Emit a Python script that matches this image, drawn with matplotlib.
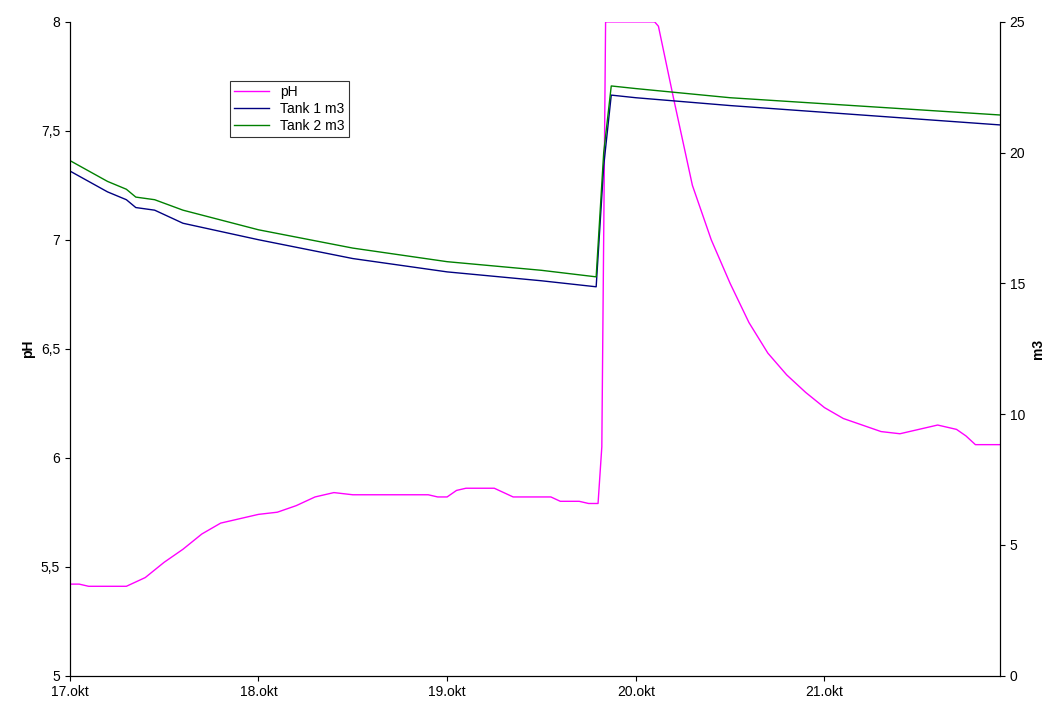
import matplotlib.pyplot as plt
from matplotlib.ticker import FuncFormatter

plt.rcParams['font.family'] = ['Liberation Sans', 'DejaVu Sans']

# days since 17.okt
ph_t = [0, 0.05, 0.1, 0.3, 0.35, 0.4, 0.5, 0.6, 0.7, 0.8, 0.9, 1.0, 1.1, 1.2, 1.3, 1.4,
        1.5, 1.9, 1.95, 2.0, 2.05, 2.1, 2.25, 2.35, 2.55, 2.6, 2.7, 2.75, 2.8, 2.82, 2.84,
        3.1, 3.12, 3.2, 3.3, 3.4, 3.5, 3.6, 3.7, 3.8, 3.9, 4.0, 4.1, 4.2, 4.3, 4.4, 4.5,
        4.6, 4.7, 4.75, 4.8, 4.93]
ph_v = [5.42, 5.42, 5.41, 5.41, 5.43, 5.45, 5.52, 5.58, 5.65, 5.70, 5.72, 5.74, 5.75, 5.78, 5.82, 5.84,
        5.83, 5.83, 5.82, 5.82, 5.85, 5.86, 5.86, 5.82, 5.82, 5.80, 5.80, 5.79, 5.79, 6.05, 8.0,
        8.0, 7.98, 7.65, 7.25, 7.0, 6.8, 6.62, 6.48, 6.38, 6.3, 6.23, 6.18, 6.15, 6.12, 6.11, 6.13,
        6.15, 6.13, 6.10, 6.06, 6.06]

tank_t = [0, 0.1, 0.2, 0.3, 0.35, 0.45, 0.6, 1.0, 1.5, 2.0, 2.5, 2.79, 2.83, 2.87, 3.0, 3.5, 4.93]
tank1 = [19.3, 18.9, 18.5, 18.2, 17.9, 17.8, 17.3, 16.67, 15.95, 15.44, 15.1, 14.87, 19.5, 22.2, 22.1, 21.8, 21.06]
tank2 = [19.7, 19.3, 18.9, 18.6, 18.3, 18.2, 17.8, 17.05, 16.35, 15.83, 15.5, 15.25, 20.0, 22.55, 22.45, 22.1, 21.44]

fig, ax = plt.subplots(figsize=(10.57, 7.06), dpi=100)
fig.subplots_adjust(left=0.066, right=0.946, top=0.969, bottom=0.043)
ax2 = ax.twinx()

l1, = ax.plot(ph_t, ph_v, color='#ff00ff', lw=1, label='pH')
l2, = ax2.plot(tank_t, tank1, color='#000080', lw=1, label='Tank 1 m3')
l3, = ax2.plot(tank_t, tank2, color='#008000', lw=1, label='Tank 2 m3')

ax.set_xlim(0, 4.93)
ax.set_ylim(5, 8)
ax2.set_ylim(0, 25)
ax.set_xticks([0, 1, 2, 3, 4])
ax.set_xticklabels(['17.okt', '18.okt', '19.okt', '20.okt', '21.okt'])
ax.yaxis.set_major_formatter(FuncFormatter(lambda v, p: ('%g' % v).replace('.', ',')))
ax.set_ylabel('pH', fontweight='bold', fontsize=10)
ax2.set_ylabel('m3', fontweight='bold', fontsize=10)
for a in (ax, ax2):
    a.tick_params(labelsize=10, direction='out')
    a.spines['top'].set_visible(False)

leg = ax.legend(handles=[l1, l2, l3], loc='upper left', bbox_to_anchor=(0.165, 0.92),
                fancybox=False, edgecolor='black', fontsize=10, handlelength=2.5,
                borderpad=0.3, labelspacing=0.2)
leg.get_frame().set_linewidth(0.8)

fig.savefig('out.png')
